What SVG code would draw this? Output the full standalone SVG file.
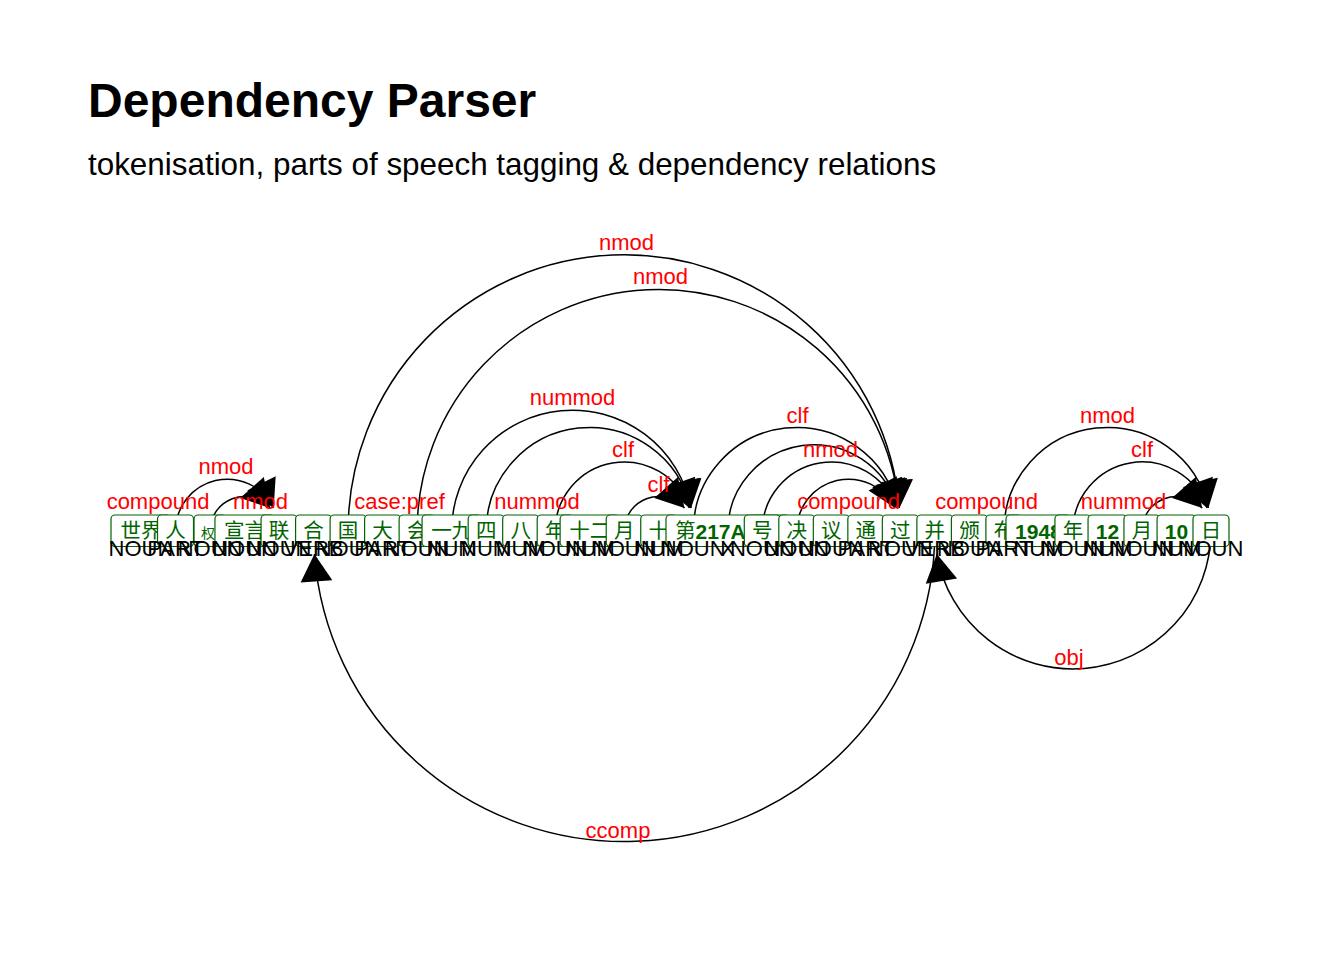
<svg xmlns="http://www.w3.org/2000/svg" width="1344" height="960" viewBox="0 0 1344 960">
<style>
.title{font-family:"Liberation Sans",Arial,sans-serif;font-weight:bold;font-size:48px;fill:#000}
.sub{font-family:"Liberation Sans",Arial,sans-serif;font-size:31.4px;fill:#000}
.box{fill:#fff;stroke:#006400;stroke-width:1.2}
.tok{font-family:"Noto Sans CJK SC",sans-serif;font-size:20.5px;fill:#006400;text-anchor:middle}
.lat{font-family:"Liberation Sans",Arial,sans-serif;font-weight:bold;font-size:21px}
.pos{font-family:"Liberation Sans",Arial,sans-serif;font-size:22px;fill:#000;text-anchor:middle}
.lab{font-family:"Liberation Sans",Arial,sans-serif;font-size:22px;fill:#f00;text-anchor:middle}
.arc{fill:none;stroke:#000;stroke-width:1.5;marker-end:url(#ah)}
</style>
<defs>
<marker id="ah" markerUnits="userSpaceOnUse" viewBox="-29 -17 30 34" refX="0" refY="0" markerWidth="30" markerHeight="34" orient="auto">
<path d="M0,0 L-27.5,-15.9 L-27.5,15.9 Z" fill="#000"/>
</marker>
</defs>
<rect width="1344" height="960" fill="#fff"/>
<text class="title" x="88" y="117">Dependency Parser</text>
<text class="sub" x="88" y="175">tokenisation, parts of speech tagging &amp; dependency relations</text>

<g id="connectors">
<path class="arc" d="M175.52,531 A51.77,51.77 0 0 1 273.67,508"/>
<path class="arc" d="M210.03,531 A34.52,34.52 0 0 1 270.28,508"/>
<path class="arc" d="M348.10,531 A276.13,276.13 0 0 1 899.40,508"/>
<path class="arc" d="M417.13,531 A241.61,241.61 0 0 1 899.25,508"/>
<path class="arc" d="M451.64,531 A120.81,120.81 0 0 1 691.05,508"/>
<path class="arc" d="M486.16,531 A103.55,103.55 0 0 1 690.67,508"/>
<path class="arc" d="M555.19,531 A69.03,69.03 0 0 1 689.31,508"/>
<path class="arc" d="M624.22,531 A34.52,34.52 0 0 1 684.47,508"/>
<path class="arc" d="M693.26,531 A103.55,103.55 0 0 1 897.77,508"/>
<path class="arc" d="M727.77,531 A86.29,86.29 0 0 1 897.23,508"/>
<path class="arc" d="M762.29,531 A69.03,69.03 0 0 1 896.41,508"/>
<path class="arc" d="M796.80,531 A51.77,51.77 0 0 1 894.96,508"/>
<path class="arc" d="M1003.90,531 A103.55,103.55 0 0 1 1208.41,508"/>
<path class="arc" d="M1072.93,531 A69.03,69.03 0 0 1 1207.06,508"/>
<path class="arc" d="M1141.96,531 A34.52,34.52 0 0 1 1202.21,508"/>
<path class="arc" d="M934.87,531 A310.65,310.65 0 0 1 314.43,554"/>
<path class="arc" d="M1211.00,531 A138.07,138.07 0 0 1 936.82,554"/>
<text class="lab" x="158" y="509">compound</text>
<text class="lab" x="226" y="474">nmod</text>
<text class="lab" x="260.5" y="509">nmod</text>
<text class="lab" x="626.5" y="249.5">nmod</text>
<text class="lab" x="399.5" y="509">case:pref</text>
<text class="lab" x="660.5" y="283.5">nmod</text>
<text class="lab" x="572.5" y="405">nummod</text>
<text class="lab" x="537" y="509">nummod</text>
<text class="lab" x="623" y="457">clf</text>
<text class="lab" x="658.5" y="491.5">clf</text>
<text class="lab" x="797.5" y="423">clf</text>
<text class="lab" x="830.5" y="457">nmod</text>
<text class="lab" x="848.5" y="509">compound</text>
<text class="lab" x="986.5" y="509">compound</text>
<text class="lab" x="1107.5" y="422.5">nmod</text>
<text class="lab" x="1142" y="457">clf</text>
<text class="lab" x="1123.5" y="509">nummod</text>
<text class="lab" x="618" y="838">ccomp</text>
<text class="lab" x="1069" y="665">obj</text>
</g>

<g id="n0"><rect class="box" x="111" y="515" width="60" height="31.5" rx="4"/><text class="tok" x="141" y="537.5">世界</text></g>
<g id="n1"><rect class="box" x="157.52" y="515" width="36" height="31.5" rx="4"/><text class="tok" x="175.52" y="537.5">人</text></g>
<g id="n2"><rect class="box" x="194.03" y="515" width="32" height="31.5" rx="4"/><text class="tok" x="208" y="537.5" style="font-size:14px">权</text></g>
<g id="n3"><rect class="box" x="214.95" y="515" width="59.2" height="31.5" rx="4"/><text class="tok" x="244.55" y="537.5">宣言</text></g>
<g id="n4"><rect class="box" x="261.06" y="515" width="36" height="31.5" rx="4"/><text class="tok" x="279.06" y="537.5">联</text></g>
<g id="n5"><rect class="box" x="295.58" y="515" width="36" height="31.5" rx="4"/><text class="tok" x="313.58" y="537.5">合</text></g>
<g id="n6"><rect class="box" x="330.10" y="515" width="36" height="31.5" rx="4"/><text class="tok" x="348.10" y="537.5">国</text></g>
<g id="n7"><rect class="box" x="364.61" y="515" width="36" height="31.5" rx="4"/><text class="tok" x="382.61" y="537.5">大</text></g>
<g id="n8"><rect class="box" x="399.13" y="515" width="36" height="31.5" rx="4"/><text class="tok" x="417.13" y="537.5">会</text></g>
<g id="n9"><rect class="box" x="422.04" y="515" width="59.2" height="31.5" rx="4"/><text class="tok" x="451.64" y="537.5">一九</text></g>
<g id="n10"><rect class="box" x="468.16" y="515" width="36" height="31.5" rx="4"/><text class="tok" x="486.16" y="537.5">四</text></g>
<g id="n11"><rect class="box" x="502.68" y="515" width="36" height="31.5" rx="4"/><text class="tok" x="520.68" y="537.5">八</text></g>
<g id="n12"><rect class="box" x="537.19" y="515" width="36" height="31.5" rx="4"/><text class="tok" x="555.19" y="537.5">年</text></g>
<g id="n13"><rect class="box" x="560.11" y="515" width="59.2" height="31.5" rx="4"/><text class="tok" x="589.71" y="537.5">十二</text></g>
<g id="n14"><rect class="box" x="606.22" y="515" width="36" height="31.5" rx="4"/><text class="tok" x="624.22" y="537.5">月</text></g>
<g id="n15"><rect class="box" x="640.74" y="515" width="36" height="31.5" rx="4"/><text class="tok" x="658.74" y="537.5">十</text></g>
<g id="n17"><rect class="box" x="666" y="515" width="123.6" height="31.5" rx="4"/><text class="tok" x="675" y="537.5" style="text-anchor:start">第<tspan class="lat" y="538.5">217A</tspan></text></g>
<g id="n18"><rect class="box" x="744.29" y="515" width="36" height="31.5" rx="4"/><text class="tok" x="762.29" y="537.5">号</text></g>
<g id="n19"><rect class="box" x="778.80" y="515" width="36" height="31.5" rx="4"/><text class="tok" x="796.80" y="537.5">决</text></g>
<g id="n20"><rect class="box" x="813.32" y="515" width="36" height="31.5" rx="4"/><text class="tok" x="831.32" y="537.5">议</text></g>
<g id="n21"><rect class="box" x="847.84" y="515" width="36" height="31.5" rx="4"/><text class="tok" x="865.84" y="537.5">通</text></g>
<g id="n22"><rect class="box" x="882.35" y="515" width="36" height="31.5" rx="4"/><text class="tok" x="900.35" y="537.5">过</text></g>
<g id="n23"><rect class="box" x="916.87" y="515" width="36" height="31.5" rx="4"/><text class="tok" x="934.87" y="537.5">并</text></g>
<g id="n24"><rect class="box" x="951.38" y="515" width="36" height="31.5" rx="4"/><text class="tok" x="969.38" y="537.5">颁</text></g>
<g id="n25"><rect class="box" x="985.90" y="515" width="36" height="31.5" rx="4"/><text class="tok" x="1003.90" y="537.5">布</text></g>
<g id="n26"><rect class="box" x="1006.02" y="515" width="64.8" height="31.5" rx="4"/><text class="tok lat" x="1038.42" y="538.5">1948</text></g>
<g id="n27"><rect class="box" x="1054.93" y="515" width="36" height="31.5" rx="4"/><text class="tok" x="1072.93" y="537.5">年</text></g>
<g id="n28"><rect class="box" x="1088.05" y="515" width="38.8" height="31.5" rx="4"/><text class="tok lat" x="1107.45" y="538.5">12</text></g>
<g id="n29"><rect class="box" x="1123.96" y="515" width="36" height="31.5" rx="4"/><text class="tok" x="1141.96" y="537.5">月</text></g>
<g id="n30"><rect class="box" x="1157.08" y="515" width="38.8" height="31.5" rx="4"/><text class="tok lat" x="1176.48" y="538.5">10</text></g>
<g id="n31"><rect class="box" x="1193.00" y="515" width="36" height="31.5" rx="4"/><text class="tok" x="1211.00" y="537.5">日</text></g>

<g id="pos-tags">
<text class="pos" x="141" y="556">NOUN</text>
<text class="pos" x="175.52" y="556">PART</text>
<text class="pos" x="210.03" y="556">NOUN</text>
<text class="pos" x="244.55" y="556">NOUN</text>
<text class="pos" x="279.06" y="556">NOUN</text>
<text class="pos" x="313.58" y="556">VERB</text>
<text class="pos" x="348.10" y="556">NOUN</text>
<text class="pos" x="382.61" y="556">PART</text>
<text class="pos" x="417.13" y="556">NOUN</text>
<text class="pos" x="451.64" y="556">NUM</text>
<text class="pos" x="486.16" y="556">NUM</text>
<text class="pos" x="520.68" y="556">NUM</text>
<text class="pos" x="555.19" y="556">NOUN</text>
<text class="pos" x="589.71" y="556">NUM</text>
<text class="pos" x="624.22" y="556">NOUN</text>
<text class="pos" x="658.74" y="556">NUM</text>
<text class="pos" x="693.26" y="556">NOUN</text>
<text class="pos" x="727.77" y="556">X</text>
<text class="pos" x="762.29" y="556">NOUN</text>
<text class="pos" x="796.80" y="556">NOUN</text>
<text class="pos" x="831.32" y="556">NOUN</text>
<text class="pos" x="865.84" y="556">PART</text>
<text class="pos" x="900.35" y="556">NOUN</text>
<text class="pos" x="934.87" y="556">VERB</text>
<text class="pos" x="969.38" y="556">NOUN</text>
<text class="pos" x="1003.90" y="556">PART</text>
<text class="pos" x="1038.42" y="556">NUM</text>
<text class="pos" x="1072.93" y="556">NOUN</text>
<text class="pos" x="1107.45" y="556">NUM</text>
<text class="pos" x="1141.96" y="556">NOUN</text>
<text class="pos" x="1176.48" y="556">NUM</text>
<text class="pos" x="1211.00" y="556">NOUN</text>
</g>
</svg>
